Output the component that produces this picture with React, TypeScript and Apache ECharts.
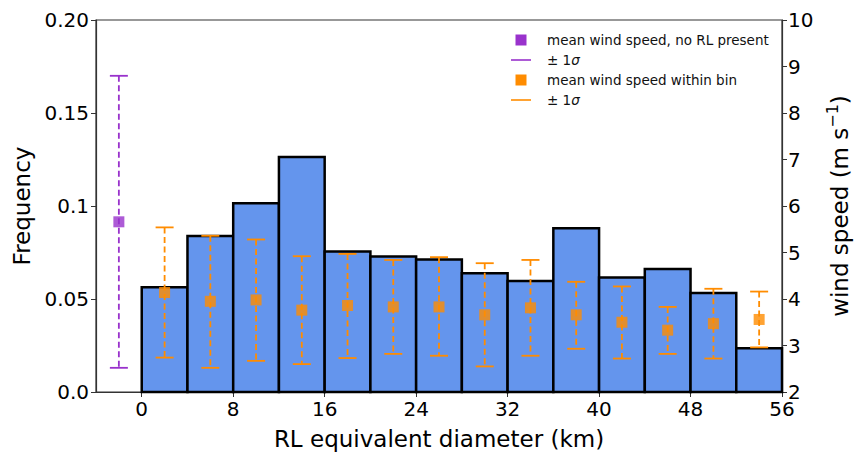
import React, { useEffect, useRef } from "react";
import * as echarts from "echarts";

// ---- data ----
const binEdges = [0, 4, 8, 12, 16, 20, 24, 28, 32, 36, 40, 44, 48, 52, 56];
const frequency = [0.0563, 0.0839, 0.1015, 0.1263, 0.0756, 0.0728, 0.0713, 0.0638, 0.0597, 0.088, 0.0615, 0.0661, 0.0532, 0.0235];

const windX = [2, 6, 10, 14, 18, 22, 26, 30, 34, 38, 42, 46, 50, 54];
const windMean = [4.14, 3.95, 3.98, 3.76, 3.86, 3.83, 3.83, 3.66, 3.81, 3.66, 3.5, 3.33, 3.47, 3.56];
const windLow = [2.74, 2.52, 2.67, 2.6, 2.73, 2.82, 2.78, 2.55, 2.78, 2.93, 2.72, 2.82, 2.72, 2.96];
const windHigh = [5.54, 5.36, 5.28, 4.92, 4.97, 4.84, 4.9, 4.77, 4.84, 4.37, 4.27, 3.83, 4.22, 4.16];

const noRlX = [-2];
const noRlMean = [5.66];
const noRlLow = [2.52];
const noRlHigh = [8.8];

const xTickValues = [0, 8, 16, 24, 32, 40, 48, 56];
const freqTickLabels = ["0.0", "0.05", "0.1", "0.15", "0.20"];
const windTickLabels = ["2", "3", "4", "5", "6", "7", "8", "9", "10"];

const legendLabels = ["mean wind speed, no RL present", "± 1{i|σ}", "mean wind speed within bin", "± 1{i|σ}"];

const PURPLE = "#9932CC";
const ORANGE = "#FF8C00";
const BLUE = "#6495ED";
const AXIS = "#333";
const FONT = "DejaVu Sans";

function errorBarRender(color: string) {
  return (params: any, api: any) => {
    const x = api.value(0);
    const lo = api.coord([x, api.value(1)]);
    const hi = api.coord([x, api.value(2)]);
    const half = 9;
    return {
      type: "group",
      children: [
        {
          type: "line",
          shape: { x1: hi[0], y1: hi[1], x2: lo[0], y2: lo[1] },
          style: { stroke: color, lineWidth: 1.8, lineDash: [6, 3.5] },
        },
        {
          type: "line",
          shape: { x1: hi[0] - half, y1: hi[1], x2: hi[0] + half, y2: hi[1] },
          style: { stroke: color, lineWidth: 1.8 },
        },
        {
          type: "line",
          shape: { x1: lo[0] - half, y1: lo[1], x2: lo[0] + half, y2: lo[1] },
          style: { stroke: color, lineWidth: 1.8 },
        },
      ],
    };
  };
}

export default function App() {
  const ref = useRef<HTMLDivElement>(null);
  useEffect(() => {
    if (!ref.current) return;
    const chart = echarts.init(ref.current, undefined, { renderer: "svg" });
    const histData = frequency.map((f, i) => [binEdges[i], binEdges[i + 1], f]);
    const windErr = windX.map((x, i) => [x, windLow[i], windHigh[i]]);
    const windPts = windX.map((x, i) => [x, windMean[i]]);
    const noRlErr = noRlX.map((x, i) => [x, noRlLow[i], noRlHigh[i]]);
    const noRlPts = noRlX.map((x, i) => [x, noRlMean[i]]);

    const lx = 521;
    const tx = 547;
    const rows = [40, 60, 80, 100];

    chart.setOption({
      animation: false,
      textStyle: { fontFamily: FONT },
      grid: {
        left: 96,
        right: 76,
        top: 20,
        bottom: 61,
        containLabel: false,
        outerBoundsMode: "none",
        show: true,
        borderColor: AXIS,
        borderWidth: 1.2,
        backgroundColor: "transparent",
      },
      xAxis: {
        type: "value",
        min: -4,
        max: 56,
        interval: 4,
        name: "RL equivalent diameter (km)",
        nameLocation: "middle",
        nameGap: 35,
        nameTextStyle: { fontSize: 23, color: "#000", fontFamily: FONT },
        axisLine: { show: true, onZero: false, lineStyle: { color: AXIS, width: 1.2 } },
        axisTick: { show: true, length: 5, customValues: xTickValues, lineStyle: { color: AXIS } },
        axisLabel: {
          customValues: xTickValues,
          fontSize: 20,
          color: "#000",
          margin: 7,
          fontFamily: FONT,
        },
        splitLine: { show: false },
      },
      yAxis: [
        {
          type: "value",
          min: 0,
          max: 0.2,
          interval: 0.05,
          position: "left",
          name: "Frequency",
          nameLocation: "middle",
          nameRotate: 90,
          nameGap: 62,
          nameTextStyle: { fontSize: 23, color: "#000", fontFamily: FONT },
          axisLine: { show: true, onZero: false, lineStyle: { color: AXIS, width: 1.2 } },
          axisTick: { show: true, length: 5, lineStyle: { color: AXIS } },
          axisLabel: {
            fontSize: 20,
            color: "#000",
            margin: 7,
            fontFamily: FONT,
            formatter: (v: number) => freqTickLabels[Math.round(v / 0.05)] ?? "",
          },
          splitLine: { show: false },
        },
        {
          type: "value",
          min: 2,
          max: 10,
          interval: 1,
          position: "right",
          name: "{n|wind speed (m s}{sup|−1}{n|)}",
          nameLocation: "middle",
          nameRotate: 90,
          nameGap: 37,
          nameTextStyle: {
            fontSize: 23,
            color: "#000",
            fontFamily: FONT,
            rich: {
              n: { fontSize: 23, fontFamily: FONT, color: "#000", padding: [8, 0, 0, 0] },
              sup: { fontSize: 16, fontFamily: FONT, color: "#000", padding: [0, 0, 8, 0] },
            },
          },
          axisLine: { show: true, onZero: false, lineStyle: { color: AXIS, width: 1.2 } },
          axisTick: { show: true, length: 5, lineStyle: { color: AXIS } },
          axisLabel: {
            fontSize: 20,
            color: "#000",
            margin: 6,
            fontFamily: FONT,
            formatter: (v: number) => windTickLabels[Math.round(v - 2)] ?? "",
          },
          splitLine: { show: false },
        },
      ],
      series: [
        {
          type: "custom",
          name: "Frequency",
          xAxisIndex: 0,
          yAxisIndex: 0,
          data: histData,
          encode: { x: [0, 1], y: 2 },
          z: 2,
          renderItem: (params: any, api: any) => {
            const p0 = api.coord([api.value(0), api.value(2)]);
            const p1 = api.coord([api.value(1), 0]);
            return {
              type: "rect",
              shape: { x: p0[0], y: p0[1], width: p1[0] - p0[0], height: p1[1] - p0[1] },
              style: { fill: BLUE, stroke: "#000", lineWidth: 2.5 },
            };
          },
        },
        {
          type: "custom",
          name: "± 1σ (no RL)",
          yAxisIndex: 1,
          data: noRlErr,
          encode: { x: 0, y: [1, 2] },
          z: 3,
          renderItem: errorBarRender(PURPLE),
        },
        {
          type: "custom",
          name: "± 1σ (bin)",
          yAxisIndex: 1,
          data: windErr,
          encode: { x: 0, y: [1, 2] },
          z: 3,
          renderItem: errorBarRender(ORANGE),
        },
        {
          type: "scatter",
          name: "mean wind speed, no RL present",
          yAxisIndex: 1,
          data: noRlPts,
          symbol: "rect",
          symbolSize: 11,
          itemStyle: { color: PURPLE },
          z: 4,
        },
        {
          type: "scatter",
          name: "mean wind speed within bin",
          yAxisIndex: 1,
          data: windPts,
          symbol: "rect",
          symbolSize: 11,
          itemStyle: { color: ORANGE },
          z: 4,
        },
      ],
      graphic: [
        { type: "rect", shape: { x: lx - 5.5, y: rows[0] - 5.5, width: 11, height: 11 }, style: { fill: PURPLE } },
        { type: "line", shape: { x1: lx - 10, y1: rows[1], x2: lx + 10, y2: rows[1] }, style: { stroke: PURPLE, lineWidth: 1.6 } },
        { type: "rect", shape: { x: lx - 5.5, y: rows[2] - 5.5, width: 11, height: 11 }, style: { fill: ORANGE } },
        { type: "line", shape: { x1: lx - 10, y1: rows[3], x2: lx + 10, y2: rows[3] }, style: { stroke: ORANGE, lineWidth: 1.6 } },
        ...legendLabels.map((t, i) => ({
          type: "text",
          x: tx,
          y: rows[i],
          style: {
            text: t,
            fontSize: 13.5,
            fontFamily: FONT,
            fill: "#111",
            verticalAlign: "middle",
            align: "left",
            rich: {
              i: { fontSize: 13.5, fontFamily: FONT, fontStyle: "italic", fill: "#111" },
            },
          },
        })),
      ],
    });
    return () => chart.dispose();
  }, []);
  return (
    <div
      ref={ref}
      style={{ position: "fixed", left: 0, top: 0, width: 858, height: 453, background: "#fff" }}
    />
  );
}
